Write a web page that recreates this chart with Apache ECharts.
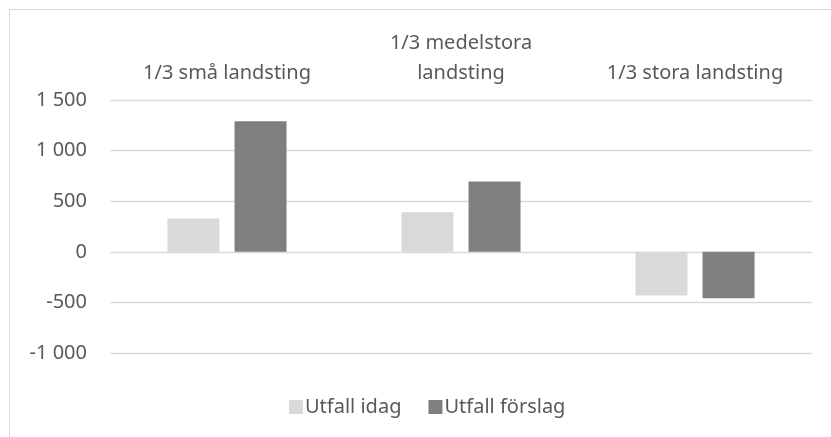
<!DOCTYPE html>
<html>
<head>
<meta charset="utf-8">
<script src="https://cdn.jsdelivr.net/npm/echarts@6/dist/echarts.min.js"></script>
<style>
html,body{margin:0;padding:0;background:#fff;}
#chart{width:831px;height:437px;}
</style>
</head>
<body>
<div id="chart"></div>
<script>
const categories = ['1/3 små landsting', '1/3 medelstora\nlandsting', '1/3 stora landsting'];
const seriesNames = ['Utfall idag', 'Utfall förslag'];
const utfallIdag = [330, 390, -432];
const utfallForslag = [1290, 695, -458];
const yTicks = { min: -1000, max: 1500, interval: 500 };

const FONT = 'Noto Sans';
const TXT = '#595959';

function fmt(v) {
  const s = Math.abs(v).toString().replace(/\B(?=(\d{3})+(?!\d))/g, ' ');
  return (v < 0 ? '-' : '') + s;
}

const chart = echarts.init(document.getElementById('chart'));
chart.setOption({
  animation: false,
  backgroundColor: '#ffffff',
  graphic: [{
    type: 'rect',
    shape: { x: 9.5, y: 9.5, width: 900, height: 600 },
    style: { fill: 'none', stroke: '#d9d9d9', lineWidth: 1 },
    silent: true
  }],
  grid: { left: 110, right: 19, top: 100, bottom: 84 },
  legend: {
    data: seriesNames,
    left: 284,
    top: 392,
    icon: 'rect',
    itemWidth: 14,
    itemHeight: 14,
    itemGap: 27,
    textStyle: { fontFamily: FONT, fontSize: 20, color: TXT, padding: [0, 0, 0, -3] }
  },
  xAxis: {
    type: 'category',
    position: 'top',
    data: categories,
    axisLine: { show: false },
    axisTick: { show: false },
    axisLabel: {
      fontFamily: FONT, fontSize: 20, color: TXT,
      margin: 12, lineHeight: 30, verticalAlign: 'bottom', interval: 0
    }
  },
  yAxis: {
    type: 'value',
    min: yTicks.min, max: yTicks.max, interval: yTicks.interval,
    axisLine: { show: false },
    axisTick: { show: false },
    splitLine: { lineStyle: { color: '#d9d9d9', width: 1.3 } },
    axisLabel: {
      fontFamily: FONT, fontSize: 20, color: TXT, margin: 23,
      formatter: fmt
    }
  },
  series: [
    { name: seriesNames[0], type: 'bar', data: utfallIdag, barWidth: 52, barGap: '29%',
      itemStyle: { color: '#d9d9d9' } },
    { name: seriesNames[1], type: 'bar', data: utfallForslag, barWidth: 52, barGap: '29%',
      itemStyle: { color: '#7f7f7f' } }
  ]
});
</script>
</body>
</html>
